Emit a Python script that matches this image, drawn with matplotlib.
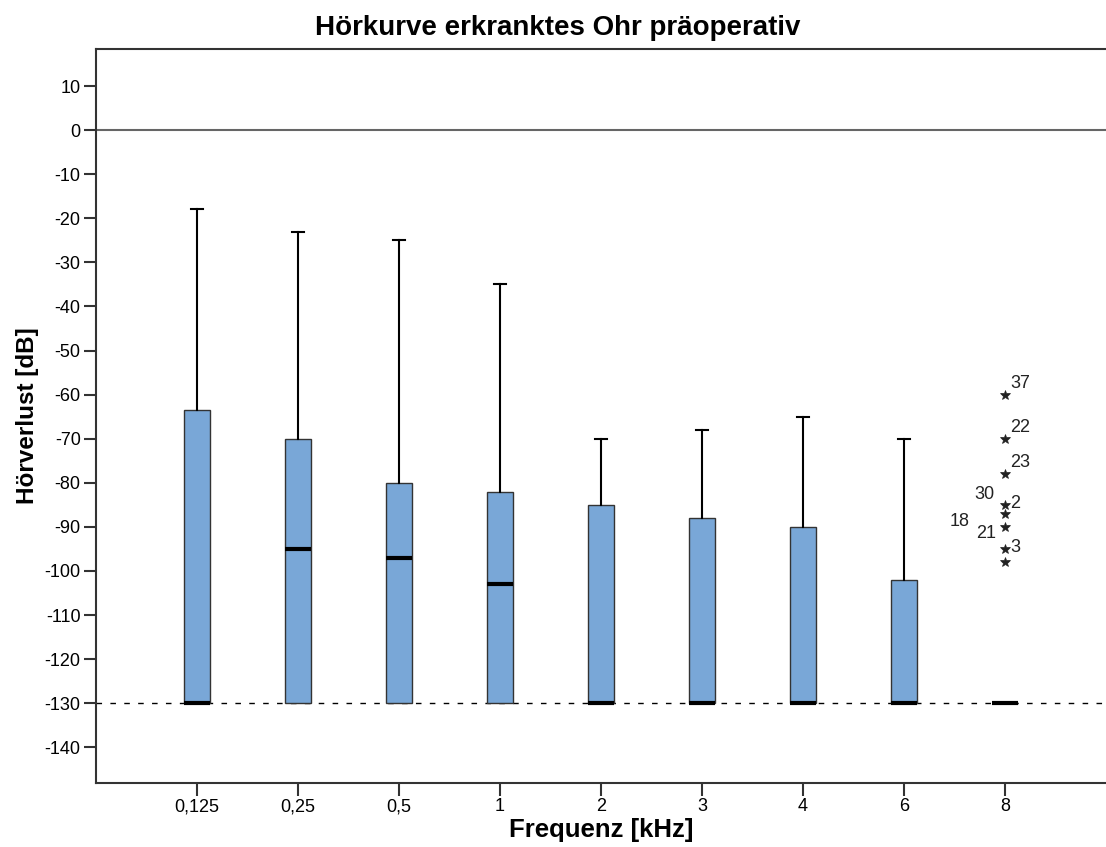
import numpy as np
import matplotlib
matplotlib.use('Agg')
import matplotlib.pyplot as plt

# --- Daten (Hörverlust in dB je Frequenz) ---
frequenzen = ['0,125', '0,25', '0,5', '1', '2', '3', '4', '6', '8']
q1 = [-130, -130, -130, -130, -130, -130, -130, -130, -130]
median = [-130, -95, -97, -103, -130, -130, -130, -130, -130]
q3 = [-63.5, -70, -80, -82, -85, -88, -90, -102, -130]
whisker_oben = [-18, -23, -25, -35, -70, -68, -65, -70, -130]
whisker_unten = [-130, -130, -130, -130, -130, -130, -130, -130, -130]

# Extremwerte bei 8 kHz
ausreisser_8k = [-60, -70, -78, -85, -87, -90, -95, -98]

plt.rcParams['font.family'] = ['Liberation Sans', 'DejaVu Sans']
plt.rcParams['axes.unicode_minus'] = False

fig = plt.figure(figsize=(11.06, 8.47), dpi=100)
ax = fig.add_axes([0.0868, 0.0756, 0.9132, 0.8665])

stats = []
for i in range(len(frequenzen)):
    stats.append({
        'med': median[i], 'q1': q1[i], 'q3': q3[i],
        'whislo': whisker_unten[i], 'whishi': whisker_oben[i],
        'fliers': ausreisser_8k if i == 8 else [],
    })

pos = np.arange(1, len(frequenzen) + 1)
bp = ax.bxp(stats, positions=pos, widths=0.26, capwidths=0.12, patch_artist=True,
            showfliers=True,
            boxprops=dict(facecolor='#79a7d7', edgecolor='#333333', linewidth=1),
            medianprops=dict(color='black', linewidth=3),
            whiskerprops=dict(color='black', linewidth=1.5),
            capprops=dict(color='black', linewidth=1.5),
            flierprops=dict(marker='*', markersize=7, markerfacecolor='#222222',
                            markeredgecolor='#222222', markeredgewidth=0.5,
                            linestyle='none'))
# untere Whisker-Enden liegen auf dem Minimum, nicht zeichnen
for cap in bp['caps'][0::2]:
    cap.set_visible(False)

# Referenzlinien
ax.axhline(0, color='#666666', linewidth=1.5, zorder=0)
ax.axhline(-130, color='black', linewidth=1, linestyle=(0, (4, 6)), zorder=0)

# Fallnummern beschriften
x8 = pos[8]
lbl = dict(textcoords='offset points', fontsize=13, color='#222222')
ax.annotate('37', (x8, -60), xytext=(4, 5), **lbl)
ax.annotate('22', (x8, -70), xytext=(4, 5), **lbl)
ax.annotate('23', (x8, -78), xytext=(4, 5), **lbl)
ax.annotate('30', (x8, -85), xytext=(-22, 4), **lbl)
ax.annotate('2', (x8, -85), xytext=(4, -2), **lbl)
ax.annotate('18', (x8, -87), xytext=(-40, -9), **lbl)
ax.annotate('21', (x8, -90), xytext=(-21, -8), **lbl)
ax.annotate('3', (x8, -95), xytext=(4, -2), **lbl)

ax.set_xlim(0, 10)
ax.set_ylim(-148.1, 18.4)
ax.set_yticks(np.arange(-140, 11, 10))
ax.set_xticks(pos)
ax.set_xticklabels(frequenzen)
ax.tick_params(axis='both', direction='out', length=9, width=1.5, labelsize=13,
               color='#333333', pad=2)

for s in ['top', 'left', 'bottom']:
    ax.spines[s].set_linewidth(1.5)
    ax.spines[s].set_color('#333333')
ax.spines['right'].set_visible(False)

fig.suptitle('Hörkurve erkranktes Ohr präoperativ', x=0.504, y=0.982, va='top',
             fontsize=20, fontweight='bold')
ax.set_xlabel('Frequenz [kHz]', fontsize=18.5, fontweight='bold', labelpad=2)
ax.set_ylabel('Hörverlust [dB]', fontsize=17.5, fontweight='bold', labelpad=4)

fig.savefig('out.png', dpi=100)
